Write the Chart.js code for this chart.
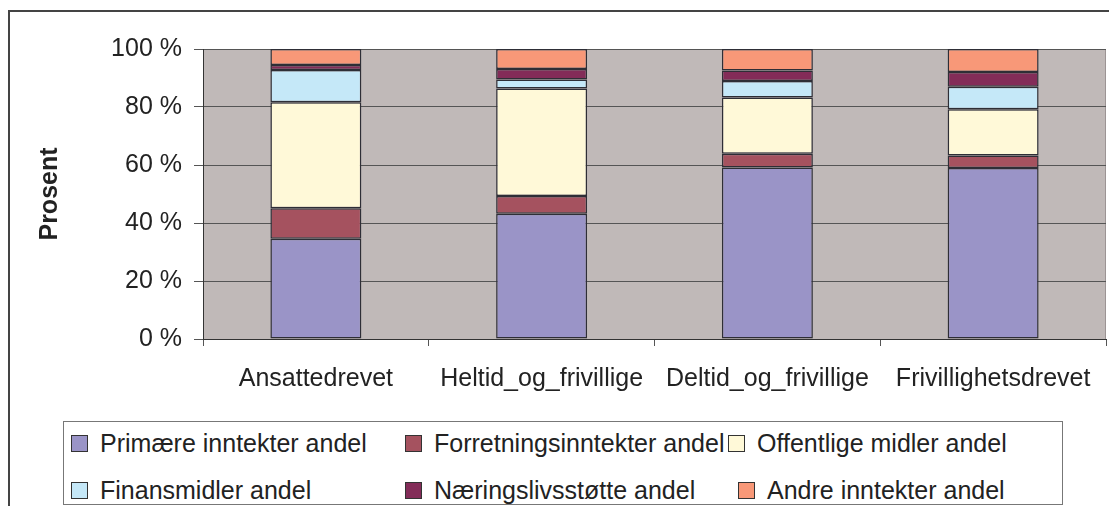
<!DOCTYPE html>
<html>
<head>
<meta charset="utf-8">
<script src="https://cdn.jsdelivr.net/npm/chart.js@4"></script>
<style>
  html, body { margin: 0; padding: 0; background: #fff; overflow: hidden; }
  #wrap { position: relative; width: 1109px; height: 506px; overflow: hidden; }
  #frame { position: absolute; left: 8px; top: 10px; width: 1200px; height: 600px;
           border: 2px solid #444; box-sizing: border-box; }
  canvas { position: absolute; left: 0; top: 0; }
  #legend { position: absolute; left: 63px; top: 421px; width: 1000px; height: 84px;
            border: 1px solid #777; box-sizing: border-box; background: #fff;
            font-family: "Liberation Sans", Arial, sans-serif; font-size: 25px; color: #222; }
  .item { position: absolute; display: flex; align-items: center; height: 30px; white-space: nowrap; }
  .swatch { width: 15px; height: 15px; border: 1px solid #333; margin-right: 12px; }
</style>
</head>
<body>
<div id="wrap">
  <div id="frame"></div>
  <canvas id="chart" width="1109" height="506"></canvas>
  <div id="legend"></div>
</div>
<script>
// Inntektsfordeling etter drivform, andel i prosent
const categories = ["Ansattedrevet", "Heltid_og_frivillige", "Deltid_og_frivillige", "Frivillighetsdrevet"];

const primaere      = [34.6, 43.2, 59.1, 59.0];
const forretning    = [10.5, 6.1, 4.8, 4.3];
const offentlige    = [36.5, 37.1, 19.4, 15.9];
const finans        = [11.2, 3.1, 5.7, 7.8];
const naeringsliv   = [1.7, 3.6, 3.6, 5.1];
const andre         = [5.5, 6.9, 7.4, 7.9];

const yTicks = [0, 20, 40, 60, 80, 100];

const seriesNames = [
  "Primære inntekter andel",
  "Forretningsinntekter andel",
  "Offentlige midler andel",
  "Finansmidler andel",
  "Næringslivsstøtte andel",
  "Andre inntekter andel"
];
const seriesData = [primaere, forretning, offentlige, finans, naeringsliv, andre];
const seriesColors = ["#9a94c7", "#a5525f", "#fff9d8", "#c5e8f8", "#832c58", "#f89878"];

const FONT = "'Liberation Sans', Arial, sans-serif";

// grey plot background like the old Excel charts
const plotBg = {
  id: "plotBg",
  beforeDraw(chart) {
    const { ctx, chartArea: a } = chart;
    ctx.save();
    ctx.fillStyle = "#c0b9b8";
    ctx.fillRect(a.left, a.top, a.right - a.left, a.bottom - a.top);
    ctx.strokeStyle = "#9c9494";
    ctx.lineWidth = 1;
    ctx.beginPath();
    ctx.moveTo(a.right - 0.5, a.top);
    ctx.lineTo(a.right - 0.5, a.bottom);
    ctx.stroke();
    ctx.restore();
  }
};

function init() {
  const canvas = document.getElementById("chart");
  const ctx = canvas.getContext("2d");

  new Chart(ctx, {
    type: "bar",
    data: {
      labels: categories,
      datasets: seriesData.map((d, i) => ({
        label: seriesNames[i],
        data: d,
        backgroundColor: seriesColors[i],
        borderColor: "#2e2e36",
        borderWidth: 1.5,
        borderSkipped: false,
        categoryPercentage: 1,
        barPercentage: 0.403
      }))
    },
    options: {
      responsive: false,
      animation: false,
      events: [],
      layout: { padding: { left: 0, top: 49, right: 3, bottom: 0 } },
      plugins: {
        legend: { display: false },
        tooltip: { enabled: false }
      },
      scales: {
        x: {
          stacked: true,
          grid: { display: true, drawOnChartArea: false, drawTicks: true, tickLength: 7, color: "#555" },
          border: { display: true, color: "#333", width: 1 },
          ticks: { color: "#222", font: { family: FONT, size: 25 }, padding: 18, maxRotation: 0, autoSkip: false },
          afterFit(scale) { scale.height = 167; }
        },
        y: {
          stacked: true,
          min: 0,
          max: 100,
          afterBuildTicks(scale) { scale.ticks = yTicks.map(v => ({ value: v })); },
          grid: { color: "#555", tickLength: 9, lineWidth: 1 },
          border: { display: true, color: "#333", width: 1 },
          ticks: {
            color: "#222",
            font: { family: FONT, size: 25 },
            padding: 12,
            callback: v => v + " %"
          },
          title: {
            display: true,
            text: "Prosent",
            color: "#222",
            font: { family: FONT, size: 25, weight: "bold" },
            padding: { top: 35, bottom: 0 }
          },
          afterFit(scale) { scale.width = 203; }
        }
      }
    },
    plugins: [plotBg]
  });

  // legend in three columns, two rows, built from the series
  const legend = document.getElementById("legend");
  const colLeft = [[7, 341, 664], [7, 341, 674]];
  const rowTop = [6, 53];
  seriesNames.forEach((name, i) => {
    const row = Math.floor(i / 3), col = i % 3;
    const item = document.createElement("div");
    item.className = "item";
    item.style.left = colLeft[row][col] + "px";
    item.style.top = rowTop[row] + "px";
    const sw = document.createElement("span");
    sw.className = "swatch";
    sw.style.background = seriesColors[i];
    const tx = document.createElement("span");
    tx.textContent = name;
    item.appendChild(sw);
    item.appendChild(tx);
    legend.appendChild(item);
  });
}

document.addEventListener("DOMContentLoaded", init);
</script>
</body>
</html>
